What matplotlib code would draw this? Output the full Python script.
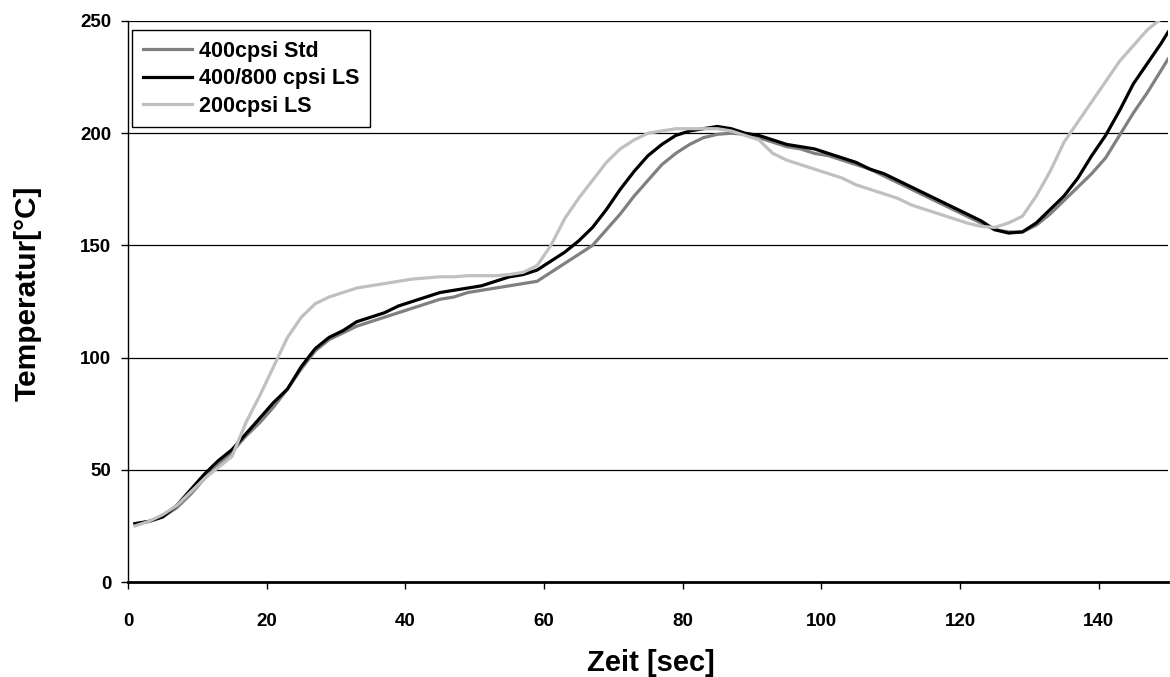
import matplotlib.pyplot as plt

plt.rcParams['font.family'] = ['Liberation Sans', 'DejaVu Sans']
plt.rcParams['font.weight'] = 'bold'

# time [sec]
zeit = [1, 3, 5, 7, 9, 11, 13, 15, 17, 19, 21, 23, 25, 27, 29, 31, 33, 35, 37, 39,
        41, 43, 45, 47, 49, 51, 53, 55, 57, 59, 61, 63, 65, 67, 69, 71, 73, 75, 77, 79,
        81, 83, 85, 87, 89, 91, 93, 95, 97, 99, 101, 103, 105, 107, 109, 111, 113, 115, 117, 119,
        121, 123, 125, 127, 129, 131, 133, 135, 137, 139, 141, 143, 145, 147, 149, 150]

std_400 = [26, 27, 29, 33, 39, 46, 52, 58, 65, 71, 78, 86, 95, 103, 108, 111, 114, 116, 118, 120,
           122, 124, 126, 127, 129, 130, 131, 132, 133, 134, 138, 142, 146, 150, 157, 164, 172, 179, 186, 191,
           195, 198, 199.5, 200, 199.5, 198, 196, 194, 193, 191, 190, 188, 186, 184, 181, 178, 175, 172, 169, 166,
           163, 160, 157, 156, 156, 159, 164, 170, 176, 182, 189, 199, 209, 218, 228, 233]

ls_400_800 = [26, 27, 29, 34, 41, 48, 54, 59, 66, 73, 80, 86, 96, 104, 109, 112, 116, 118, 120, 123,
              125, 127, 129, 130, 131, 132, 134, 136, 137, 139, 143, 147, 152, 158, 166, 175, 183, 190, 195, 199,
              201, 202, 203, 202, 200, 199, 197, 195, 194, 193, 191, 189, 187, 184, 182, 179, 176, 173, 170, 167,
              164, 161, 157, 155.5, 156, 160, 166, 172, 180, 190, 199, 210, 222, 231, 240, 245]

ls_200 = [25, 27, 30, 34, 40, 46, 51, 56, 71, 83, 96, 109, 118, 124, 127, 129, 131, 132, 133, 134,
          135, 135.5, 136, 136, 136.5, 136.5, 136.5, 137, 138, 141, 150, 162, 171, 179, 187, 193, 197, 200, 201, 202,
          202, 202, 202, 201, 199, 197, 191, 188, 186, 184, 182, 180, 177, 175, 173, 171, 168, 166, 164, 162,
          160, 158.5, 158, 160, 163, 172, 183, 196, 205, 214, 223, 232, 239, 246, 251, 253]

fig = plt.figure(figsize=(11.7, 6.77), dpi=100)
ax = fig.add_axes([0.1094, 0.1403, 0.8889, 0.8287])

ax.plot(zeit, std_400, color='#808080', lw=2.3, label='400cpsi Std')
ax.plot(zeit, ls_400_800, color='black', lw=2.3, label='400/800 cpsi LS')
ax.plot(zeit, ls_200, color='#c0c0c0', lw=2.3, label='200cpsi LS')

ax.set_xlim(0, 150)
ax.set_ylim(0, 250)
ax.set_xticks(range(0, 141, 20))
ax.set_yticks(range(0, 251, 50))
ax.yaxis.grid(True, color='black', lw=0.9)
ax.set_axisbelow(True)

for s in ['top', 'right']:
    ax.spines[s].set_visible(False)
ax.spines['left'].set_linewidth(1.0)
ax.spines['bottom'].set_linewidth(2.0)
ax.tick_params(direction='out', length=5, width=1, labelsize=13.5)
ax.tick_params(axis='x', pad=17)
ax.tick_params(axis='y', pad=7)

fig.text(0.5565, 0.0207, 'Zeit [sec]', fontsize=21, fontweight='bold', ha='center', va='center')
fig.text(0.0235, 0.5665, 'Temperatur[°C]', fontsize=21.5, fontweight='bold',
         ha='center', va='center', rotation=90)

leg = ax.legend(loc='upper left', bbox_to_anchor=(0.0038, 0.984), borderaxespad=0, fontsize=15.5,
                fancybox=False, edgecolor='black', framealpha=1,
                handlelength=2.3, handletextpad=0.33, borderpad=0.5, labelspacing=0.3)
leg.get_frame().set_linewidth(1.0)

fig.savefig('out.png', dpi=100)
